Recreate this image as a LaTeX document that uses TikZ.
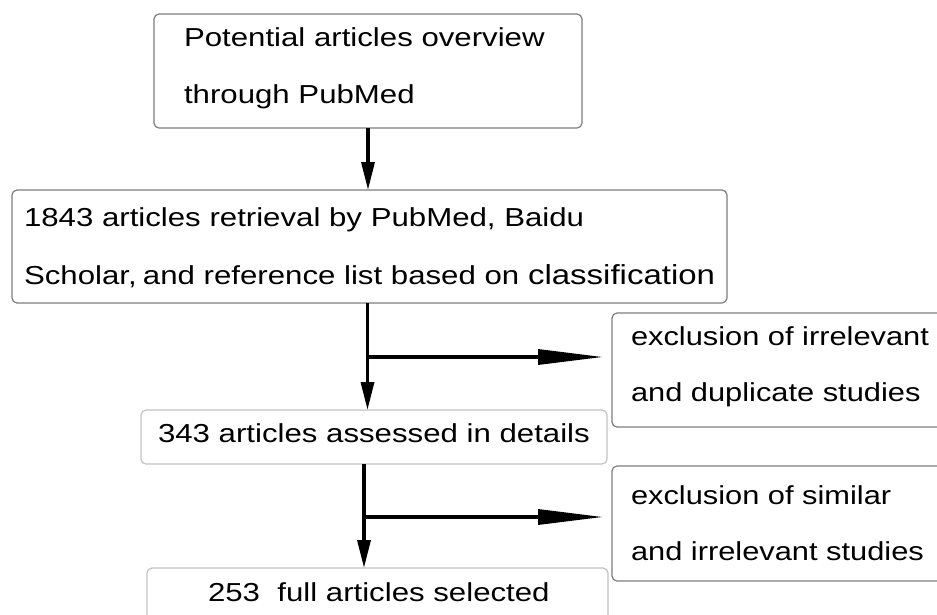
\documentclass[tikz,border=0pt]{standalone}
\usepackage{fontspec}
\usepackage{graphicx}
\setmainfont{Liberation Sans}
\usetikzlibrary{arrows.meta}
\definecolor{boxgray}{RGB}{125,125,125}
\definecolor{softgray}{RGB}{195,195,195}
\newcommand{\wide}[1]{\scalebox{1.2}[1]{#1}}
\newcommand{\sidewide}[1]{\scalebox{1.185}[1]{#1}}
\begin{document}
\begin{tikzpicture}[x=1pt,y=-1pt,
  box/.style={draw=boxgray, line width=1.2pt, rounded corners=5pt, fill=white,
    anchor=north west, inner sep=0pt, outer sep=0pt},
  softbox/.style={box, draw=softgray},
  txt/.style={anchor=base west, inner sep=0pt, outer sep=0pt,
    font=\fontsize{26}{30}\selectfont},
  flow/.style={line width=3.3pt, -{Triangle[length=28pt,width=13pt]}},
  side/.style={line width=3.3pt, -{Triangle[length=65pt,width=15pt]}}
]
\useasboundingbox (0,0) rectangle (937,614);
\clip (0,0) rectangle (937,614);

% boxes
\node[box, minimum width=428pt, minimum height=114pt] (overview) at (154,14) {};
\node[box, minimum width=715pt, minimum height=113pt] (retrieval) at (12,190) {};
\node[softbox, minimum width=466pt, minimum height=54pt] (assessed) at (141,410) {};
\node[box, minimum width=340pt, minimum height=114pt] (exclA) at (612,313) {};
\node[box, minimum width=340pt, minimum height=115pt] (exclB) at (612,466) {};
\node[softbox, minimum width=461pt, minimum height=60pt] (selected) at (147,568) {};

% texts
\node[txt] (t1a) at (184,46.7) {\wide{Potential articles overview}};
\node[txt] (t1b) at (184,103) {\wide{through PubMed}};
\node[txt] (t2a) at (24,226.7) {\wide{1843 articles retrieval by PubMed, Baidu}};
\node[txt] (t2b) at (24,284) {\wide{Scholar,\kern-2pt{} and reference list based on
  {\fontsize{27.5}{30}\selectfont classification}}};
\node[txt] (t3) at (158,442.3) {\wide{343 articles assessed in details}};
\node[txt] (t4a) at (631,345) {\sidewide{exclusion of irrelevant}};
\node[txt] (t4b) at (631,401.7) {\sidewide{and duplicate studies}};
\node[txt] (t5a) at (631,504) {\sidewide{exclusion of similar}};
\node[txt] (t5b) at (631,560) {\sidewide{and irrelevant studies}};
\node[txt] (t6) at (208,601.7) {\wide{253\ \ full articles selected}};

% connectors
\coordinate (b1) at (367.5,357);
\coordinate (b2) at (364,517);
\draw[flow] (overview.south -| 368,0) -- (retrieval.north -| 368,0);
\draw[flow] (retrieval.south -| b1) -- (assessed.north -| b1);
\draw[side] ([xshift=1.6pt]b1) -- ([xshift=-9pt]exclA.west |- b1);
\draw[flow] (assessed.south -| b2) -- (selected.north -| b2);
\draw[side] ([xshift=1.6pt]b2) -- ([xshift=-9pt]exclB.west |- b2);
\end{tikzpicture}
\end{document}
